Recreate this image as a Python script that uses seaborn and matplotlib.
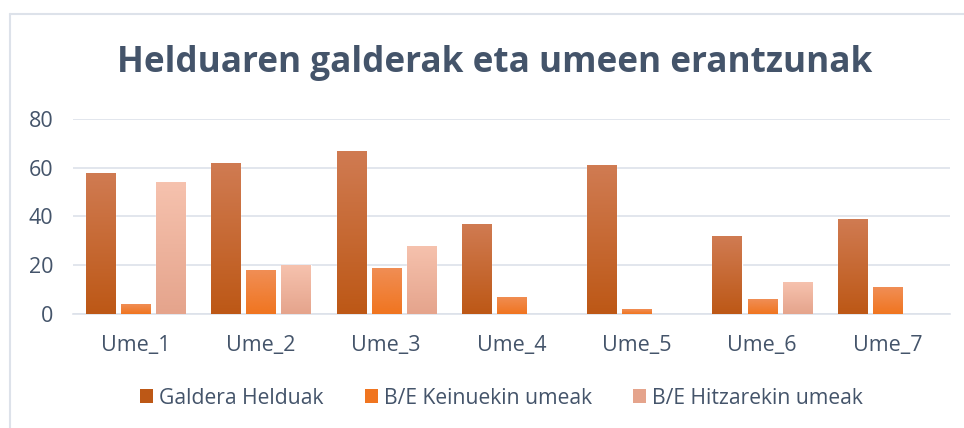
import numpy as np
import pandas as pd
import seaborn as sns
import matplotlib.pyplot as plt
from matplotlib.colors import LinearSegmentedColormap
from matplotlib.lines import Line2D
from matplotlib.patches import Patch

# chart data
categories = ['Ume_1', 'Ume_2', 'Ume_3', 'Ume_4', 'Ume_5', 'Ume_6', 'Ume_7']
series_names = ['Galdera Helduak', 'B/E Keinuekin umeak', 'B/E Hitzarekin umeak']
galdera = [58, 62, 67, 37, 61, 32, 39]
keinu = [4, 18, 19, 7, 2, 6, 11]
hitza = [54, 20, 28, 0, 0, 13, 0]
yticks = [0, 20, 40, 60, 80]

# (top colour, bottom colour) of each series gradient
grads = {
    'Galdera Helduak': ('#d07b52', '#bd5816'),
    'B/E Keinuekin umeak': ('#f08e55', '#f07520'),
    'B/E Hitzarekin umeak': ('#f6c2ae', '#e5a48c'),
}
text_col = '#44546a'

df = pd.DataFrame({
    'cat': categories * 3,
    'serie': [s for s in series_names for _ in categories],
    'val': galdera + keinu + hitza,
})

sns.set_theme(style='white')
plt.rcParams['font.family'] = ['Open Sans', 'DejaVu Sans']

fig = plt.figure(figsize=(9.64, 4.28), dpi=100)
ax = fig.add_axes([0.0757, 0.2664, 0.9098, 0.4556])

palette = {s: grads[s][1] for s in series_names}
sns.barplot(data=df, x='cat', y='val', hue='serie', hue_order=series_names,
            palette=palette, width=0.84, gap=0.17, ax=ax, legend=False,
            saturation=1)

# gradient fill per bar
for container, s in zip(ax.containers, series_names):
    cmap = LinearSegmentedColormap.from_list(s, [grads[s][1], grads[s][0]])
    for bar in container:
        h = bar.get_height()
        if h <= 0:
            bar.set_visible(False)
            continue
        x0 = bar.get_x()
        w = bar.get_width()
        grad = np.linspace(0, 1, 100).reshape(-1, 1)
        im = ax.imshow(grad, cmap=cmap, origin='lower', aspect='auto',
                       extent=[x0, x0 + w, 0, h], zorder=3)
        im.set_clip_path(bar)
ax.set_xlim(-0.5, 6.5)
ax.set_ylim(0, 80)

ax.set_yticks(yticks)
ax.yaxis.grid(True, color='#dde2ea', linewidth=1.2)
ax.set_axisbelow(True)
for sp in ['top', 'right', 'left']:
    ax.spines[sp].set_visible(False)
ax.spines['bottom'].set_color('#dde2ea')
ax.spines['bottom'].set_linewidth(1.2)
ax.tick_params(axis='both', length=0, labelsize=15.5, colors=text_col)
ax.tick_params(axis='y', pad=14)
ax.tick_params(axis='x', pad=15)
ax.set_xlabel('')
ax.set_ylabel('')

fig.text(0.513, 0.852, 'Helduaren galderak eta umeen erantzunak', ha='center',
         va='center', fontsize=25.3, fontweight='bold', color=text_col)

handles = [Patch(facecolor=grads[s][1], edgecolor='none') for s in series_names]
fig.legend(handles, series_names, loc='center', bbox_to_anchor=(0.52, 0.07),
           ncol=3, frameon=False, fontsize=15.2, labelcolor=text_col,
           handlelength=0.62, handleheight=0.62, handletextpad=0.28,
           columnspacing=1.95)

# chart border
fig.add_artist(Line2D([0.0105, 0.0105], [0, 0.967], color='#dde2ea', lw=1.5,
                      transform=fig.transFigure))
fig.add_artist(Line2D([0.0105, 1], [0.967, 0.967], color='#dde2ea', lw=1.5,
                      transform=fig.transFigure))

fig.savefig('out.png', dpi=100)
